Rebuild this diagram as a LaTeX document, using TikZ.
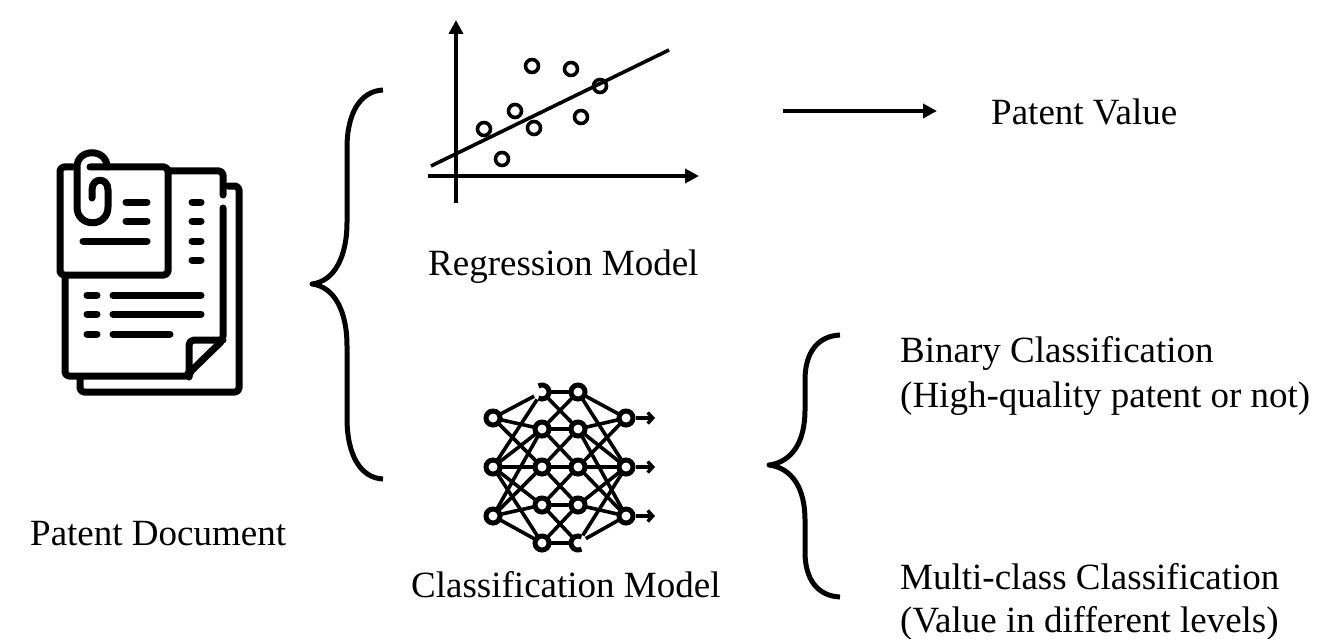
\documentclass[tikz,border=0pt]{standalone}
\usepackage{fontspec}
\setmainfont{Liberation Serif}
\usetikzlibrary{arrows.meta}
\tikzset{
 lbl/.style={anchor=base west,inner sep=0pt,font=\fontsize{37}{44}\selectfont,align=left},
 ico/.style={line width=7pt,line cap=round,line join=round,black},
 docline/.style={line width=7pt,line cap=round},
 brace/.style={line width=5pt,line join=round},
 axis/.style={line width=3.6pt,-{Triangle[length=14pt,width=14pt]}},
 dotpt/.style={circle,draw,line width=3.6pt,minimum size=13pt,inner sep=0pt},
 nn/.style={circle,fill=white,draw,line width=5pt,minimum size=14pt,inner sep=0pt},
 nnopen/.style={circle,fill=white,minimum size=18pt,inner sep=0pt},
 edge/.style={line width=3.6pt},
 outarrow/.style={line width=3.8pt,-{Straight Barb[length=5pt,width=11pt,line width=3.4pt]}},
}
\begin{document}
\begin{tikzpicture}[x=1pt,y=-1pt]
\useasboundingbox (0,0) rectangle (1329,639);
% document icon
\draw[ico,rounded corners=4pt] (228,186) -- (239,186) -- (239,392) -- (80,392) -- (80,378);
\draw[ico,rounded corners=4pt] (168,171) -- (223,171) -- (223,195);
\draw[ico,rounded corners=4pt] (223,208) -- (223,340) -- (189,373) -- (189,376) -- (65,376) -- (65,277);
\draw[ico,rounded corners=5pt] (189,374) -- (189,340) -- (223,340);
\draw[ico,rounded corners=4pt] (90,167) -- (168,167) -- (168,275) -- (60,275) -- (60,167) -- (73,167);
\draw[ico] (92,198) -- (92,190) .. controls (92,177) and (108,177) .. (108,190) -- (108,207)
  .. controls (108,228) and (77,228) .. (77,207) -- (77,167)
  .. controls (77,148) and (107,148) .. (107,167);
\foreach \xa/\ya/\xb/\yb in {126/202/147/202,126/221/147/221,83/241/147/241,
  192/202/201/202,192/221/201/221,192/241/201/241,192/260/201/260,
  87/295/97/295,87/314/97/314,87/334/97/334,
  113/295/201/295,113/314/201/314,113/334/170/334}
  \draw[docline] (\xa,\ya) -- (\xb,\yb);
% labels
\node[lbl] (doc) at (30,545) {Patent Document};
\node[lbl] (reg) at (428,275) {Regression Model};
\node[lbl] (cls) at (411,597) {Classification Model};
\node[lbl] (val) at (991,125) {Patent Value};
\node[lbl] (bin) at (900,362) {Binary Classification};
\node[lbl] (binb) at (900,407) {(High-quality patent or not)};
\node[lbl] (mul) at (900,589) {Multi-class Classification};
\node[lbl] (mulb) at (900,632) {(Value in different levels)};
% braces
\coordinate (b1t) at (383,90); \coordinate (b1m) at (312,284); \coordinate (b1b) at (383,479);
\draw[brace] (b1t) .. controls (361,91) and (347,112) .. (347,148) -- (347,222)
  .. controls (347,256) and (335,281) .. (b1m)
  .. controls (335,287) and (347,312) .. (347,346) -- (347,418)
  .. controls (347,456) and (361,478) .. (b1b);
\coordinate (b2t) at (840,335); \coordinate (b2m) at (769,465); \coordinate (b2b) at (840,597);
\draw[brace] (b2t) .. controls (818,336) and (805,352) .. (805,380) -- (805,410)
  .. controls (805,442) and (792,462) .. (b2m)
  .. controls (792,468) and (805,488) .. (805,520) -- (805,552)
  .. controls (805,580) and (818,596) .. (b2b);
% arrow
\coordinate (a1) at (783,111); \coordinate (a2) at (937,111);
\draw[line width=4.6pt,-{Triangle[length=14pt,width=14pt]}] (a1) -- (a2);
% chart
\coordinate (yb) at (456,203); \coordinate (yt) at (456,20);
\coordinate (xl) at (428,176); \coordinate (xr) at (699,176);
\coordinate (tl) at (431,166); \coordinate (tr) at (669,50);
\draw[axis] (yb) -- (yt);
\draw[axis] (xl) -- (xr);
\draw[line width=3.6pt] (tl) -- (tr);
\foreach \i/\x/\y in {1/532/66,2/571/69,3/600/86,4/515/111,5/581/117,6/484/129,7/534/128,8/502/159}
  \node[dotpt] (p\i) at (\x,\y) {};
% network
\foreach \n/\x/\y in {l1/493/418,l2/493/467,l3/493/516,
   a1x/542/392,a2x/542/429,a3x/542/467,a4x/542/505,a5x/542/543,
   b1x/578/392,b2x/578/429,b3x/578/467,b4x/578/505,b5x/578/543,
   r1/626/418,r2/626/467,r3/626/516}
  \coordinate (\n) at (\x,\y);
\foreach \u/\v in {l1/a1x,l1/a2x,l1/a3x,l2/a1x,l2/a2x,l2/a3x,l2/a4x,l2/a5x,l3/a2x,l3/a3x,l3/a4x,l3/a5x,
   r1/b1x,r1/b2x,r1/b3x,r2/b1x,r2/b2x,r2/b3x,r2/b4x,r2/b5x,r3/b2x,r3/b3x,r3/b4x,r3/b5x,
   a1x/b1x,a2x/b2x,a3x/b3x,a4x/b4x,a5x/b5x,
   a1x/b2x,a2x/b1x,a2x/b3x,a3x/b2x,a3x/b4x,a4x/b3x,a4x/b5x,a5x/b4x}
  \draw[edge] (\u) -- (\v);
\foreach \c in {l1,l2,l3,a2x,a3x,a4x,a5x,b1x,b2x,b3x,b4x,r1,r2,r3}
  \node[nn] (n\c) at (\c) {};
\node[nnopen] (na1) at (a1x) {};
\node[nnopen] (nb5) at (b5x) {};
\draw[line width=5pt] ([shift={(-3.5,-6.06)}]a1x) arc[start angle=120,end angle=-120,radius=7pt];
\draw[line width=5pt] ([shift={(3.5,6.06)}]b5x) arc[start angle=-60,end angle=-300,radius=7pt];
\coordinate (o1) at (655,418); \coordinate (o2) at (655,467); \coordinate (o3) at (655,516);
\draw[outarrow] (nr1) -- (o1);
\draw[outarrow] (nr2) -- (o2);
\draw[outarrow] (nr3) -- (o3);
\end{tikzpicture}
\end{document}
